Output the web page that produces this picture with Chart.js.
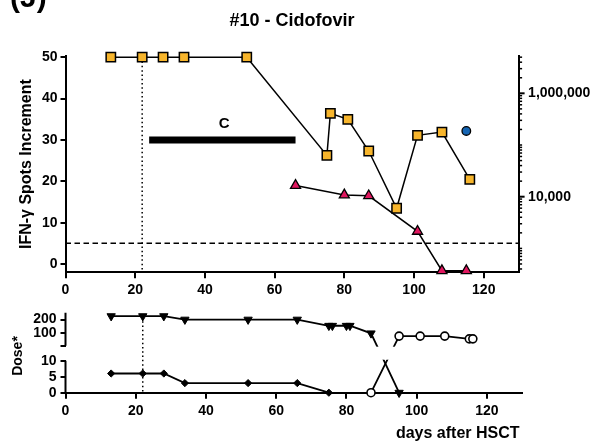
<!DOCTYPE html>
<html>
<head>
<meta charset="utf-8">
<script src="https://cdn.jsdelivr.net/npm/chart.js@4.4.1/dist/chart.umd.min.js"></script>
<style>
body { margin: 0; background: #fff; }
#wrap { position: relative; width: 597px; height: 446px; }
canvas { position: absolute; left: 0; }
#topChart { top: 0; }
#doseChart { top: 300px; }
</style>
</head>
<body>
<div id="wrap">
<canvas id="topChart" width="597" height="305"></canvas>
<canvas id="doseChart" width="597" height="146"></canvas>
</div>
<script>
// axis ticks
let xTicks = [0, 20, 40, 60, 80, 100, 120];
let spotTicks = [0, 10, 20, 30, 40, 50];
let copyLabels = [10000, 1000000];
let doseTicks = [0, 5, 10, 100, 200];

// upper panel: viral copies (squares, blue dot) and IFN-g spots (triangles)
let squareDays = [13, 22, 28, 34, 52, 75, 76, 81, 87, 95, 101, 108, 116];
let squareCopies = [5000000, 5000000, 5000000, 5000000, 5000000, 63000, 410000, 314000, 76600, 5970, 154000, 178000, 21700];
let blueDays = [115];
let blueCopies = [187000];
let triangleDays = [66, 80, 87, 101, 108, 115];
let triangleSpots = [19.0, 16.7, 16.5, 7.9, -1.6, -1.6];
let cidofovirDays = [24, 66];
let cidofovirLevel = 30;
let cutoff = 5;
let hsctMark = 22;

// lower panel: doses
let drugADays = [13, 22, 28, 34, 52, 66, 75, 76, 80, 81, 87, 95];
let drugADose = [225, 225, 225, 200, 200, 200, 155, 155, 155, 155, 100, 0];
let drugBDays = [13, 22, 28, 34, 52, 66, 75];
let drugBDose = [6, 6, 6, 3, 3, 3, 0];
let drugCDays = [87, 95, 101, 108, 115, 116];
let drugCDose = [0, 80, 80, 80, 60, 60];

// broken dose axis: 0-10 below, 10-250 above a gap
let breakLow = 10;
let breakGap = 4.6875;
let breakHigh = 250;
let breakSpan = 10.3125;
function doseToAxis(v){
    if(v <= breakLow) return v;
    return breakLow + breakGap + (v - breakLow) * breakSpan / (breakHigh - breakLow);
}

function pts(days, vals){
    return days.map((d, i) => ({x: d, y: vals[i]}));
}

const FONT = "'Liberation Sans', Arial, sans-serif";
Chart.defaults.font.family = FONT;
Chart.defaults.font.weight = 'bold';
Chart.defaults.font.size = 14;
Chart.defaults.color = '#000';

function logTicks(min, max){
    let out = [];
    for(let e = 2; e <= 6; e++){
        for(let m = 1; m <= 9; m++){
            let v = m * Math.pow(10, e);
            if(v >= min && v <= max) out.push({value: v});
        }
    }
    return out;
}

const topDeco = {
    id: 'topDeco',
    beforeDatasetsDraw(chart){
        const {ctx, chartArea, scales: {x, ySpots}} = chart;
        ctx.save();
        ctx.strokeStyle = '#000';
        ctx.lineWidth = 1.5;
        ctx.setLineDash([5.5, 3.5]);
        ctx.beginPath();
        ctx.moveTo(chartArea.left, ySpots.getPixelForValue(cutoff));
        ctx.lineTo(chartArea.right, ySpots.getPixelForValue(cutoff));
        ctx.stroke();
        ctx.setLineDash([1.5, 2.8]);
        ctx.beginPath();
        ctx.moveTo(x.getPixelForValue(hsctMark), ySpots.getPixelForValue(50));
        ctx.lineTo(x.getPixelForValue(hsctMark), chartArea.bottom);
        ctx.stroke();
        ctx.restore();
    },
    afterDraw(chart){
        const {ctx, chartArea, scales: {x, ySpots, yCopies}} = chart;
        ctx.save();
        ctx.fillStyle = '#000';
        // right axis tick marks
        ctx.strokeStyle = '#000';
        yCopies.ticks.forEach(t => {
            let len = copyLabels.includes(t.value) ? 6 : 3.5;
            let y = yCopies.getPixelForValue(t.value);
            ctx.lineWidth = copyLabels.includes(t.value) ? 2 : 1.5;
            ctx.beginPath();
            ctx.moveTo(yCopies.left, y);
            ctx.lineTo(yCopies.left + len, y);
            ctx.stroke();
        });
        ctx.textAlign = 'center';
        ctx.textBaseline = 'middle';
        ctx.font = 'bold 18px ' + FONT;
        ctx.fillText('#10 - Cidofovir', (chartArea.left + chartArea.right) / 2, 21);
        ctx.font = 'bold 15px ' + FONT;
        ctx.fillText('C', x.getPixelForValue(45.5), ySpots.getPixelForValue(cidofovirLevel) - 16);
        ctx.font = 'bold 16px ' + FONT;
        ctx.translate(27, (chartArea.top + chartArea.bottom) / 2);
        ctx.rotate(-Math.PI / 2);
        ctx.fillText('IFN-\u03B3 Spots Increment', 0, 0);
        ctx.restore();
        ctx.save();
        ctx.fillStyle = '#000';
        ctx.font = 'bold 30px ' + FONT;
        ctx.textAlign = 'left';
        ctx.textBaseline = 'alphabetic';
        ctx.fillText('(J)', 10, 7);
        ctx.restore();
    }
};

new Chart(document.getElementById('topChart'), {
    type: 'line',
    data: {
        datasets: [{
            data: pts(squareDays, squareCopies),
            yAxisID: 'yCopies',
            borderColor: '#000',
            borderWidth: 1.5,
            pointStyle: 'rect',
            pointRadius: 6.6,
            pointBackgroundColor: '#F7B52C',
            pointBorderColor: '#000',
            pointBorderWidth: 1.5,
            clip: false
        }, {
            data: pts(blueDays, blueCopies),
            yAxisID: 'yCopies',
            showLine: false,
            pointStyle: 'circle',
            pointRadius: 4.3,
            pointBackgroundColor: '#1565B3',
            pointBorderColor: '#000',
            pointBorderWidth: 1.3,
            clip: false
        }, {
            data: pts(triangleDays, triangleSpots),
            yAxisID: 'ySpots',
            borderColor: '#000',
            borderWidth: 1.5,
            pointStyle: 'triangle',
            pointRadius: 5.8,
            pointBackgroundColor: '#E0175F',
            pointBorderColor: '#000',
            pointBorderWidth: 1.3,
            clip: false
        }, {
            data: pts(cidofovirDays, [cidofovirLevel, cidofovirLevel]),
            yAxisID: 'ySpots',
            borderColor: '#000',
            borderWidth: 7,
            borderCapStyle: 'butt',
            pointRadius: 0,
            clip: false
        }]
    },
    options: {
        responsive: false,
        animation: false,
        layout: {padding: {top: 56, left: 0, right: 0, bottom: 0}},
        plugins: {legend: {display: false}, tooltip: {enabled: false}},
        elements: {line: {tension: 0}},
        scales: {
            x: {
                type: 'linear', min: 0, max: 130,
                afterBuildTicks: s => { s.ticks = xTicks.map(v => ({value: v})); },
                afterFit: s => { s.height = 32.7; },
                grid: {drawOnChartArea: false, tickLength: 6, color: '#000', lineWidth: 2},
                border: {color: '#000', width: 2},
                ticks: {padding: 3, maxRotation: 0, autoSkip: false}
            },
            ySpots: {
                type: 'linear', position: 'left', min: -2, max: 50.3,
                afterBuildTicks: s => { s.ticks = spotTicks.map(v => ({value: v})); },
                afterFit: s => { s.width = 65.5; },
                grid: {drawOnChartArea: false, tickLength: 5, color: '#000', lineWidth: 2},
                border: {color: '#000', width: 2},
                ticks: {padding: 3, autoSkip: false}
            },
            yCopies: {
                type: 'logarithmic', position: 'right', min: 345, max: 5270000,
                afterBuildTicks: s => { s.ticks = logTicks(345, 5270000); },
                afterFit: s => { s.width = 78.4; },
                grid: {display: false, drawOnChartArea: false, drawTicks: true, tickLength: 6},
                border: {color: '#000', width: 2},
                ticks: {
                    padding: 3.5, autoSkip: false,
                    callback: v => copyLabels.includes(v) ? v.toLocaleString('en-US') : ''
                }
            }
        }
    },
    plugins: [topDeco]
});

const doseDeco = {
    id: 'doseDeco',
    afterDatasetsDraw(chart){
        const {ctx, chartArea, scales: {x, y}} = chart;
        let yCap = y.getPixelForValue(breakLow + breakGap);
        let yLow = y.getPixelForValue(breakLow);
        ctx.save();
        // hide the lines inside the axis break
        ctx.fillStyle = '#fff';
        ctx.fillRect(chartArea.left + 1.5, yCap + 1, chartArea.right - chartArea.left, yLow - yCap - 2);
        ctx.strokeStyle = '#000';
        ctx.lineWidth = 1.5;
        ctx.setLineDash([1.5, 2.8]);
        ctx.beginPath();
        ctx.moveTo(x.getPixelForValue(hsctMark), y.getPixelForValue(doseToAxis(225)) + 5);
        ctx.lineTo(x.getPixelForValue(hsctMark), chartArea.bottom);
        ctx.stroke();
        ctx.setLineDash([]);
        ctx.lineWidth = 2;
        ctx.beginPath();
        ctx.moveTo(chartArea.left, chartArea.top);
        ctx.lineTo(chartArea.left, yCap);
        ctx.moveTo(chartArea.left, yLow);
        ctx.lineTo(chartArea.left, chartArea.bottom + 1);
        ctx.stroke();
        ctx.restore();
    },
    afterDraw(chart){
        const {ctx, chartArea} = chart;
        ctx.save();
        ctx.fillStyle = '#000';
        ctx.textBaseline = 'middle';
        ctx.textAlign = 'right';
        ctx.font = 'bold 16px ' + FONT;
        ctx.fillText('days after HSCT', 519.5, 134);
        ctx.textAlign = 'center';
        ctx.font = 'bold 14px ' + FONT;
        ctx.translate(18, 56);
        ctx.rotate(-Math.PI / 2);
        ctx.fillText('Dose*', 0, 0);
        ctx.restore();
    }
};

let doseAxisTicks = doseTicks.map(doseToAxis);
doseAxisTicks.splice(3, 0, breakLow + breakGap);
let doseAxisText = ['0', '5', '10', '', '100', '200'];

new Chart(document.getElementById('doseChart'), {
    type: 'line',
    data: {
        datasets: [{
            data: pts(drugADays, drugADose.map(doseToAxis)),
            borderColor: '#000',
            borderWidth: 1.8,
            pointStyle: 'triangle',
            rotation: 180,
            pointRadius: 4.8,
            pointBackgroundColor: '#000',
            pointBorderColor: '#000',
            pointBorderWidth: 1,
            clip: false
        }, {
            data: pts(drugBDays, drugBDose.map(doseToAxis)),
            borderColor: '#000',
            borderWidth: 1.8,
            pointStyle: 'rectRot',
            pointRadius: 3.6,
            pointBackgroundColor: '#000',
            pointBorderColor: '#000',
            pointBorderWidth: 1,
            clip: false
        }, {
            data: pts(drugCDays, drugCDose.map(doseToAxis)),
            borderColor: '#000',
            borderWidth: 1.8,
            pointStyle: 'circle',
            pointRadius: 4,
            pointBackgroundColor: '#fff',
            pointBorderColor: '#000',
            pointBorderWidth: 1.6,
            clip: false
        }]
    },
    options: {
        responsive: false,
        animation: false,
        layout: {padding: {top: 12.7, left: 0, right: 75, bottom: 0}},
        plugins: {legend: {display: false}, tooltip: {enabled: false}},
        elements: {line: {tension: 0}},
        scales: {
            x: {
                type: 'linear', min: 0, max: 130,
                afterBuildTicks: s => { s.ticks = xTicks.map(v => ({value: v})); },
                afterFit: s => { s.height = 53.3; },
                grid: {drawOnChartArea: false, tickLength: 6, color: '#000', lineWidth: 2},
                border: {color: '#000', width: 2},
                ticks: {padding: 4, maxRotation: 0, autoSkip: false}
            },
            y: {
                type: 'linear', min: 0, max: doseToAxis(breakHigh),
                afterBuildTicks: s => { s.ticks = doseAxisTicks.map(v => ({value: v})); },
                afterFit: s => { s.width = 65.5; },
                grid: {drawOnChartArea: false, tickLength: 5, color: '#000', lineWidth: 2},
                border: {display: false},
                ticks: {
                    padding: 4, autoSkip: false,
                    callback: v => {
                        let i = doseAxisTicks.findIndex(t => Math.abs(t - v) < 1e-6);
                        return i >= 0 ? doseAxisText[i] : '';
                    }
                }
            }
        }
    },
    plugins: [doseDeco]
});
</script>
</body>
</html>
